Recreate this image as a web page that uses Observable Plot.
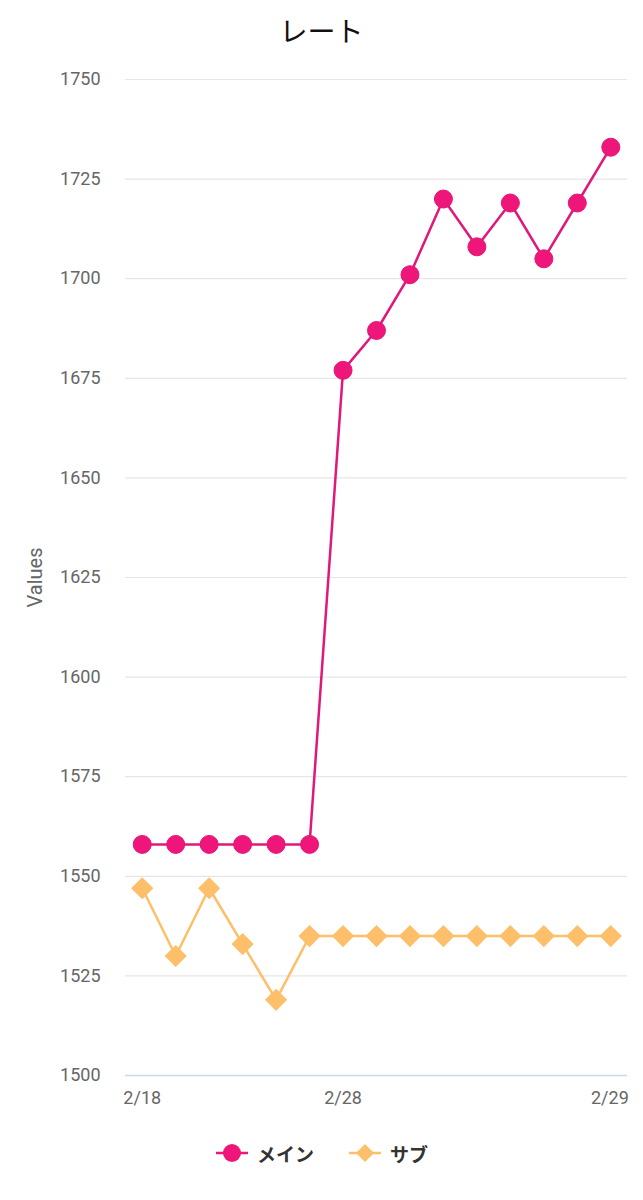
<!DOCTYPE html>
<html>
<head>
<meta charset="utf-8">
<script src="https://cdn.jsdelivr.net/npm/d3@7"></script>
<script src="https://cdn.jsdelivr.net/npm/@observablehq/plot@0.6"></script>
<style>
  body { margin: 0; background: #fff; font-family: Roboto, "Noto Sans CJK JP", sans-serif; }
  #title { height: 60px; line-height: 60px; text-align: center; font-size: 28px; color: #111; font-family: "Noto Sans CJK JP", Roboto, sans-serif; }
  #legend { height: 66px; display: flex; justify-content: center; align-items: center; gap: 34px; font-size: 19px; font-weight: bold; color: #333; font-family: "Noto Sans CJK JP", sans-serif; }
  #legend span.item { display: flex; align-items: center; gap: 8px; }
</style>
</head>
<body>
<div id="title">レート</div>
<div id="chart"></div>
<div id="legend"></div>
<script>
const categories = ["2/18","2/19","2/20","2/21","2/22","2/23","2/28","2/28 ","2/28  ","2/28   ","2/28    ","2/28     ","2/28      ","2/28       ","2/29"];
const tickLabels = {0: "2/18", 6: "2/28", 14: "2/29"};
const mainValues = [1558,1558,1558,1558,1558,1558,1677,1687,1701,1720,1708,1719,1705,1719,1733];
const subValues  = [1547,1530,1547,1533,1519,1535,1535,1535,1535,1535,1535,1535,1535,1535,1535];
const seriesNames = ["メイン","サブ"];
const colors = ["#ef1679","#fdbf6a"];
const yTicks = d3.range(1500, 1751, 25);

const mainData = mainValues.map((v,i)=>({i, v}));
const subData = subValues.map((v,i)=>({i, v}));

const chart = Plot.plot({
  width: 643,
  height: 1060,
  marginTop: 19,
  marginBottom: 45,
  marginLeft: 125,
  marginRight: 16,
  style: {fontFamily: "Roboto, sans-serif", fontSize: "18px", color: "#666"},
  x: {domain: [-0.5, 14.5], axis: null},
  y: {domain: [1500, 1750], axis: null},
  marks: [
    Plot.ruleY(yTicks.filter(t=>t>1500), {stroke: "#e6e6e6", strokeWidth: 1.2}),
    Plot.ruleY([1500], {stroke: "#ccd6eb", strokeWidth: 1.5}),
    Plot.axisY({ticks: yTicks, tickFormat: d => String(d), tickSize: 0, tickPadding: 25, fontSize: 18, fill: "#666", label: null}),
    Plot.axisX({ticks: [0,6], tickFormat: d=>tickLabels[d], tickSize: 0, tickPadding: 16, fontSize: 18, fill: "#666", label: null}),
    Plot.axisX({ticks: [14], tickFormat: d=>tickLabels[d], tickSize: 0, tickPadding: 16, fontSize: 18, fill: "#666", label: null, textAnchor: "end", dx: 18}),
    Plot.text(["Values"], {frameAnchor: "left", textAnchor: "middle", dx: -90, rotate: -90, fontSize: 20, fill: "#666"}),
    Plot.line(subData, {x: "i", y: "v", stroke: colors[1], strokeWidth: 2.5}),
    Plot.dot(subData, {x: "i", y: "v", symbol: "diamond2", r: 10, fill: colors[1], stroke: "none"}),
    Plot.line(mainData, {x: "i", y: "v", stroke: "#e0187a", strokeWidth: 2.5}),
    Plot.dot(mainData, {x: "i", y: "v", r: 9, fill: colors[0], stroke: "#e5147a", strokeWidth: 1})
  ]
});
document.getElementById("chart").appendChild(chart);

const legend = document.getElementById("legend");
seriesNames.forEach((name, k) => {
  const item = document.createElement("span");
  item.className = "item";
  const sym = k === 0
    ? `<svg width="34" height="20"><line x1="1" y1="10" x2="33" y2="10" stroke="${colors[0]}" stroke-width="2.5"/><circle cx="17" cy="10" r="9" fill="${colors[0]}"/></svg>`
    : `<svg width="34" height="20"><line x1="1" y1="10" x2="33" y2="10" stroke="${colors[1]}" stroke-width="2.5"/><path d="M17,1 L26,10 L17,19 L8,10Z" fill="${colors[1]}"/></svg>`;
  item.innerHTML = sym + `<span>${name}</span>`;
  legend.appendChild(item);
});
</script>
</body>
</html>
